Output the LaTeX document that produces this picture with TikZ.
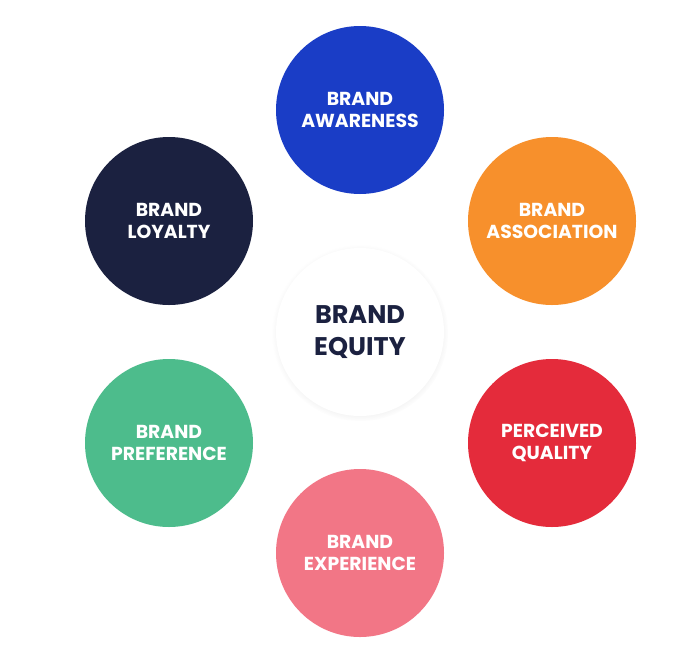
\documentclass[tikz,border=0pt]{standalone}
\usepackage{fontspec}
\setmainfont{Poppins}[BoldFont={* Bold}]
\usepackage{tikz}
\usetikzlibrary{positioning, shadows}
\definecolor{awareblue}{HTML}{1A3DC6}
\definecolor{loyalnavy}{HTML}{1B2140}
\definecolor{assocorange}{HTML}{F7902C}
\definecolor{qualityred}{HTML}{E42B3B}
\definecolor{prefgreen}{HTML}{4DBC8C}
\definecolor{experpink}{HTML}{F27686}

\begin{document}
\begin{tikzpicture}[x=1pt, y=-1pt]
\tikzset{Facet/.style={shape=circle, minimum size=168pt, inner sep=0pt, text=white, align=center, font=\fontsize{18.8}{22.5}\selectfont\bfseries}}
\tikzset{Core/.style={shape=circle, fill=white, minimum size=168pt, inner sep=0pt, text=loyalnavy, align=center, font=\fontsize{25.5}{32}\selectfont\bfseries, circular drop shadow={opacity=0.16, shadow xshift=0pt, shadow yshift=-1pt, shadow scale=1.05}}}

\useasboundingbox[fill=white] (0, 0) rectangle (700, 656);

% nodes
\node[Core] (equity) at (360, 332) {BRAND\\EQUITY};
\node[Facet, fill=awareblue] (aware) at (360, 110) {BRAND\\AWARENESS};
\node[Facet, fill=assocorange] (assoc) at (552, 221) {BRAND\\ASSOCIATION};
\node[Facet, fill=qualityred] (quality) at (552, 443) {PERCEIVED\\QUALITY};
\node[Facet, fill=experpink] (exper) at (360, 553) {BRAND\\EXPERIENCE};
\node[Facet, fill=prefgreen] (pref) at (169, 443) {BRAND\\PREFERENCE};
\node[Facet, fill=loyalnavy] (loyal) at (169, 221) {BRAND\\LOYALTY};
\end{tikzpicture}
\end{document}
